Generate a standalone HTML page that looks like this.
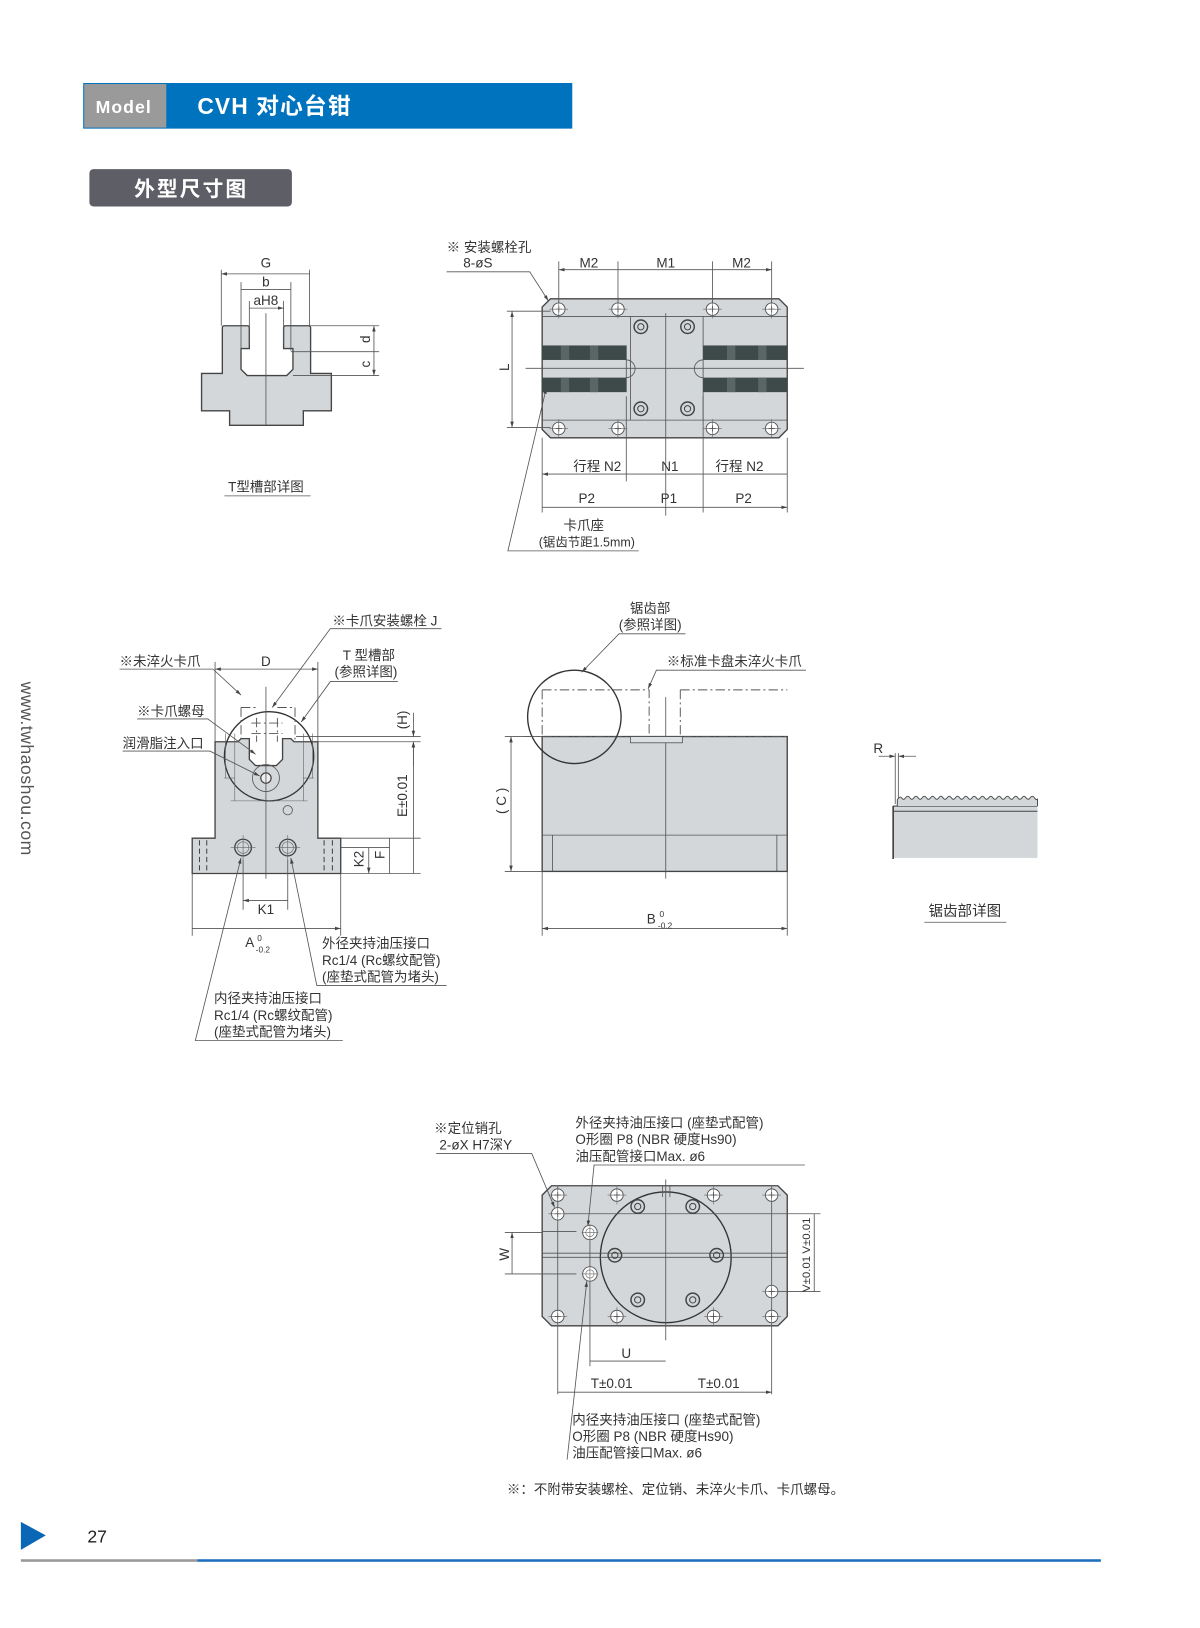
<!DOCTYPE html>
<html><head><meta charset="utf-8">
<style>
html,body{margin:0;padding:0;background:#fff;}
svg{display:block;}
text{font-family:"Liberation Sans","Noto Sans CJK SC",sans-serif;fill:#333;font-size:13px;}
.f{fill:#d3d7da;stroke:#444;stroke-width:1.3;}
.l{stroke:#555;stroke-width:0.8;fill:none;}
.t{stroke:#666;stroke-width:0.6;fill:none;}
.d{stroke:#555;stroke-width:0.9;fill:none;stroke-dasharray:9 3 2 3;}
.h{fill:#fff;stroke:#555;stroke-width:0.9;}
.c{text-anchor:middle;}
</style></head><body>
<svg width="1200" height="1628" viewBox="0 0 1160 1574" xmlns="http://www.w3.org/2000/svg">
<defs>
<marker id="a" viewBox="0 0 10 10" refX="10" refY="5" markerWidth="7" markerHeight="7" orient="auto-start-reverse"><path d="M0,2 L10,5 L0,8z" fill="#444"/></marker>
<g id="bh"><circle r="6" class="h"/><path d="M-9,0H9M0,-9V9" class="t"/><path d="M-3,0H3M0,-3V3" stroke="#555" stroke-width="0.8"/></g>
<g id="rh"><circle r="6.5" fill="none" stroke="#444" stroke-width="1.4"/><circle r="3" fill="none" stroke="#444" stroke-width="1"/></g>
</defs>
<g transform="matrix(1.004,0,0,1.003,0,2)">
<!-- header -->
<rect x="80" y="78" width="471" height="44" fill="#0073be"/>
<rect x="81" y="79" width="79" height="42" fill="#9a9a9a"/>
<text x="92" y="107" style="fill:#fff;font-weight:bold;font-size:17px;letter-spacing:1px">Model</text>
<text x="190" y="108" style="fill:#fff;font-weight:bold;font-size:22px;letter-spacing:1px">CVH 对心台钳</text>
<rect x="86" y="161" width="195" height="36" rx="4" fill="#5d5e66"/>
<text x="184" y="187" class="c" style="fill:#fff;font-weight:bold;font-size:20px;letter-spacing:2px">外型尺寸图</text>

<text transform="translate(20,655) rotate(90)" style="font-size:17px;fill:#555;letter-spacing:0.5px">www.twhaoshou.com</text>

<!-- T slot detail -->
<path class="f" d="M214,314 q0,-2 2,-2 h22 q2,0 2,2 V334 H232 V354 l6,6 H276 l6,-6 V334 H273 V314 q0,-2 2,-2 h22 q2,0 2,2 V358 H319 V394 H292 V408 H221 V394 H194 V358 H214 Z"/>
<path class="l" d="M256,300 V408"/>
<path class="l" d="M213,312 V258 M298,312 V258 M232,336 V270 M280,336 V270 M240,330 V288 M273,330 V288"/>
<path class="l" marker-start="url(#a)" marker-end="url(#a)" d="M213,262 H298 M232,277 H280 M240,295 H273"/>
<text x="256" y="256" class="c">G</text><text x="256" y="274" class="c">b</text><text x="256" y="292" class="c">aH8</text>
<path class="l" d="M298,312 H365 M280,337 H365 M282,360 H365"/>
<path class="l" marker-start="url(#a)" marker-end="url(#a)" d="M360,312 V337 M360,337 V360"/>
<text transform="translate(356,325) rotate(-90)" class="c">d</text>
<text transform="translate(356,349) rotate(-90)" class="c">c</text>
<text x="256" y="472" class="c">T型槽部详图</text>
<path class="l" d="M216,476 H299"/>

<!-- top view -->
<path class="f" d="M530,286 H750 L758,294 V412 L750,420 H530 L522,412 V294 Z"/>
<path class="l" d="M522,303 H758 M522,403 H758 M607,303 V403 M677,303 V403 M603,331 V376 M677,331 V376"/>
<rect x="522" y="331" width="81" height="14" fill="#3e4a4a"/><rect x="522" y="362" width="81" height="14" fill="#3e4a4a"/>
<rect x="677" y="331" width="81" height="14" fill="#3e4a4a"/><rect x="677" y="362" width="81" height="14" fill="#3e4a4a"/>
<g fill="#5a6666"><rect x="540" y="331" width="8" height="14"/><rect x="568" y="331" width="8" height="14"/><rect x="540" y="362" width="8" height="14"/><rect x="568" y="362" width="8" height="14"/><rect x="700" y="331" width="8" height="14"/><rect x="730" y="331" width="8" height="14"/><rect x="700" y="362" width="8" height="14"/><rect x="730" y="362" width="8" height="14"/></g>
<path d="M603,345 a8,8 0 0 1 0,17 M677,345 a8,8 0 0 0 0,17" class="l"/>
<path class="l" d="M641,300 V495 M506,353 H774"/>
<use href="#bh" x="538" y="296"/><use href="#bh" x="595" y="296"/><use href="#bh" x="686" y="296"/><use href="#bh" x="743" y="296"/>
<use href="#bh" x="538" y="411"/><use href="#bh" x="595" y="411"/><use href="#bh" x="686" y="411"/><use href="#bh" x="743" y="411"/>
<use href="#rh" x="617" y="313"/><use href="#rh" x="662" y="313"/><use href="#rh" x="617" y="392"/><use href="#rh" x="662" y="392"/>
<path class="l" d="M538,290 V250 M595,290 V250 M686,290 V250 M743,290 V250"/>
<path class="l" marker-start="url(#a)" marker-end="url(#a)" d="M538,258 H595 M595,258 H686 M686,258 H743"/>
<text x="567" y="256" class="c">M2</text><text x="641" y="256" class="c">M1</text><text x="714" y="256" class="c">M2</text>
<path class="l" d="M488,298 H530 M488,410 H530"/>
<path class="l" marker-start="url(#a)" marker-end="url(#a)" d="M493,298 V410"/>
<text transform="translate(490,352) rotate(-90)" class="c">L</text>
<path class="l" d="M522,420 V492 M758,420 V492 M603,380 V462 M677,380 V492"/>
<path class="l" marker-start="url(#a)" marker-end="url(#a)" d="M522,455 H603 M603,455 H677 M677,455 H758 M522,487 H641 M641,487 H758"/>
<text x="575" y="452" class="c">行程  N2</text><text x="645" y="452" class="c">N1</text><text x="712" y="452" class="c">行程 N2</text>
<text x="565" y="483" class="c">P2</text><text x="644" y="483" class="c">P1</text><text x="716" y="483" class="c">P2</text>
<text x="430" y="241">※ 安装螺栓孔</text><text x="446" y="256">8-øS</text>
<path class="l" d="M430,260 H510 L528,288" marker-end="url(#a)"/>
<text x="562" y="509" class="c">卡爪座</text><text x="565" y="525" class="c" style="font-size:12px">(锯齿节距1.5mm)</text>
<path class="l" d="M615,529 H498 L489,529 L526,372" marker-end="url(#a)"/>

<!-- front view -->
<path class="f" d="M207,713 H229 l3,-3 h8 V730 l6,6 h20 l6,-6 V710 h8 l3,3 H306 V806 H328 V840 H185 V806 H207 Z"/>
<circle cx="259" cy="727" r="43" fill="none" stroke="#333" stroke-width="1.3"/>
<path class="t" d="M222,770 H296 M226,705 V770 M292,705 V770 M216,748 H226 M292,748 H302 M217,705 V748 M301,705 V748"/>
<circle cx="256" cy="748" r="13" fill="none" stroke="#555" stroke-width="0.8"/>
<circle cx="256" cy="748" r="5" fill="#eee" stroke="#444" stroke-width="1.2"/>
<circle cx="277" cy="779" r="4.5" fill="none" stroke="#555" stroke-width="0.8"/>
<path class="d" d="M232,680 V713 M247,690 V713 M267,690 V713 M284,680 V713 M232,680 H247 M267,680 H284 M242,695 H272 M242,705 H272"/>
<path class="l" d="M256,660 V845"/>
<path class="l" d="M207,713 V636 M306,713 V636"/>
<path class="l" marker-start="url(#a)" marker-end="url(#a)" d="M207,643 H306"/>
<text x="256" y="640" class="c">D</text>
<circle cx="234" cy="815" r="8" fill="none" stroke="#444" stroke-width="1.3"/><circle cx="234" cy="815" r="5.5" fill="#eee" class="t"/>
<circle cx="277" cy="815" r="8" fill="none" stroke="#444" stroke-width="1.3"/><circle cx="277" cy="815" r="5.5" fill="#eee" class="t"/>
<path class="t" d="M222,815 H246 M234,803 V827 M265,815 H289 M277,803 V827"/>
<path d="M192,808 V838 M199,808 V838 M312,808 V838 M320,808 V838" stroke="#444" stroke-width="1" stroke-dasharray="5 3" fill="none"/>
<path class="l" d="M234,827 V875 M277,827 V875 M185,840 V900 M328,840 V900"/>
<path class="l" marker-start="url(#a)" marker-end="url(#a)" d="M234,866 H277 M185,893 H328"/>
<text x="256" y="879" class="c">K1</text>
<text x="248" y="911" class="c">A <tspan dy="-6" style="font-size:8px">0</tspan><tspan dx="-6" dy="11" style="font-size:8px">-0.2</tspan></text>
<path class="l" d="M285,708 H405 M306,713 H405 M328,806 H405 M328,815 H375 M328,840 H405"/>
<path class="l" marker-end="url(#a)" d="M398,685 V708"/><path class="l" marker-end="url(#a)" d="M398,736 V713"/>
<path class="l" marker-start="url(#a)" marker-end="url(#a)" d="M398,713 V840 M375,806 V840 M355,815 V840"/>
<text transform="translate(392,692) rotate(-90)" class="c">(H)</text>
<text transform="translate(392,765) rotate(-90)" class="c">E±0.01</text>
<text transform="translate(370,822) rotate(-90)" class="c">F</text>
<text transform="translate(350,826) rotate(-90)" class="c">K2</text>
<text x="115" y="640">※未淬火卡爪</text><path class="l" d="M115,643 H205 L232,668" marker-end="url(#a)"/>
<text x="320" y="601">※卡爪安装螺栓 J</text><path class="l" d="M425,604 H318 L262,680" marker-end="url(#a)"/>
<text x="330" y="634">T 型槽部</text><text x="322" y="650">(参照详图)</text><path class="l" d="M383,655 H318 L290,694" marker-end="url(#a)"/>
<text x="132" y="688">※卡爪螺母</text><path class="l" d="M132,691 H200 L246,725" marker-end="url(#a)"/>
<text x="118" y="719">润滑脂注入口</text><path class="l" d="M118,722 H202 L250,746" marker-end="url(#a)"/>
<text x="310" y="912">外径夹持油压接口</text><text x="310" y="928">Rc1/4 (Rc螺纹配管)</text><text x="310" y="944">(座垫式配管为堵头)</text>
<path class="l" d="M430,948 H305 L280,825" marker-end="url(#a)"/>
<text x="206" y="965">内径夹持油压接口</text><text x="206" y="981">Rc1/4 (Rc螺纹配管)</text><text x="206" y="997">(座垫式配管为堵头)</text>
<path class="l" d="M330,1001 H188 L188,1001 L232,825" marker-end="url(#a)"/>

<!-- side view -->
<rect x="522" y="708" width="236" height="130" class="f"/>
<path class="l" d="M522,803 H758 M532,803 V838 M748,803 V838 M641,670 V845"/>
<rect x="607" y="708" width="50" height="6" fill="#dde0e2" stroke="#555" stroke-width="0.8"/>
<path class="d" d="M522,663 H625 V708 M522,663 V708 M655,663 H758 M655,663 V708 M505,708 H758"/>
<circle cx="553" cy="689" r="45" fill="none" stroke="#333" stroke-width="1.3"/>
<path class="l" d="M486,708 H522 M486,838 H522"/>
<path class="l" marker-start="url(#a)" marker-end="url(#a)" d="M492,708 V838"/>
<text transform="translate(487,770) rotate(-90)" class="c">( C )</text>
<path class="l" d="M522,838 V900 M758,838 V900"/>
<path class="l" marker-start="url(#a)" marker-end="url(#a)" d="M522,893 H758"/>
<text x="635" y="888" class="c">B <tspan dy="-6" style="font-size:8px">0</tspan><tspan dx="-6" dy="11" style="font-size:8px">-0.2</tspan></text>
<text x="626" y="589" class="c">锯齿部</text><text x="626" y="605" class="c">(参照详图)</text>
<path class="l" d="M660,609 H596 L560,646" marker-end="url(#a)"/>
<text x="642" y="640">※标准卡盘未淬火卡爪</text>
<path class="l" d="M776,644 H632 L624,662" marker-end="url(#a)"/>

<!-- serration detail -->
<rect x="860" y="775" width="139" height="50" fill="#d3d7da"/>
<path d="M860,775 V826" stroke="#444" stroke-width="1.6"/>
<path d="M860,775 H999 M860,780 H999" stroke="#444" stroke-width="1"/>
<path fill="#d3d7da" stroke="#444" stroke-width="0.9" d="M864,775 V769 q2,-4 4,-2 q2,3 4,0 q2,-3 4,0 q2,3 4,0 q2,-3 4,0 q2,3 4,0 q2,-3 4,0 q2,3 4,0 q2,-3 4,0 q2,3 4,0 q2,-3 4,0 q2,3 4,0 q2,-3 4,0 q2,3 4,0 q2,-3 4,0 q2,3 4,0 q2,-3 4,0 q2,3 4,0 q2,-3 4,0 q2,3 4,0 q2,-3 4,0 q2,3 4,0 q2,-3 4,0 q2,3 4,0 q2,-3 4,0 q2,3 4,0 q2,-3 4,0 q2,3 4,0 q2,-3 4,0 q2,3 4,0 q2,-3 4,0 q2,3 4,0 q2,-3 4,0 q2,3 3,1 V775"/>
<path class="l" d="M862,724 V773 M865,724 V768"/>
<path class="l" d="M846,727 H862" marker-end="url(#a)"/><path class="l" d="M882,727 H865" marker-end="url(#a)"/>
<text x="841" y="724">R</text>
<text x="929" y="881" class="c" style="font-size:14px">锯齿部详图</text><path class="l" d="M890,887 H969"/>

<!-- bottom view -->
<path class="f" d="M531,1141 H749 L758,1150 V1267 L749,1276 H531 L522,1267 V1150 Z"/>
<circle cx="641" cy="1210" r="63" fill="none" stroke="#333" stroke-width="1.3"/>
<path class="l" d="M522,1206 H758 M522,1210 H758 M641,1135 V1290 M638,1141 V1152 M645,1141 V1152"/>
<path class="l" d="M537,1141 V1342 M743,1141 V1342 M568,1185 V1315 M530,1168 H790 M770,1168 H790 M743,1243 H790 M555,1185 H522 M555,1226 H522"/>
<use href="#bh" x="537" y="1150"/><use href="#bh" x="594" y="1150"/><use href="#bh" x="687" y="1150"/><use href="#bh" x="743" y="1150"/>
<use href="#bh" x="537" y="1267"/><use href="#bh" x="594" y="1267"/><use href="#bh" x="687" y="1267"/><use href="#bh" x="743" y="1267"/>
<use href="#bh" x="537" y="1168"/><use href="#bh" x="743" y="1243"/>
<g><circle cx="568" cy="1186" r="7" class="h"/><circle cx="568" cy="1186" r="4" class="t"/><path class="t" d="M560,1186H576M568,1178V1194"/></g>
<g><circle cx="568" cy="1226" r="7" class="h"/><circle cx="568" cy="1226" r="4" class="t"/><path class="t" d="M560,1226H576M568,1218V1234"/></g>
<use href="#rh" x="614" y="1161"/><use href="#rh" x="667" y="1161"/><use href="#rh" x="592" y="1208"/><use href="#rh" x="690" y="1208"/><use href="#rh" x="614" y="1251"/><use href="#rh" x="667" y="1251"/>
<path class="l" marker-start="url(#a)" marker-end="url(#a)" d="M493,1186 V1226 M784,1168 V1208 M784,1208 V1243 M568,1310 H641 M537,1340 H641 M641,1340 H743"/>
<path class="l" d="M486,1186 H522 M486,1226 H522"/>
<text transform="translate(490,1207) rotate(-90)" class="c">W</text>
<text transform="translate(780,1189) rotate(-90)" class="c" style="font-size:11px">V±0.01</text>
<text transform="translate(780,1226) rotate(-90)" class="c" style="font-size:11px">V±0.01</text>
<text x="603" y="1307" class="c">U</text>
<text x="589" y="1336" class="c">T±0.01</text><text x="692" y="1336" class="c">T±0.01</text>
<text x="418" y="1090">※定位销孔</text><text x="423" y="1106">2-øX H7深Y</text>
<path class="l" d="M420,1110 H512 L534,1162" marker-end="url(#a)"/>
<text x="554" y="1085">外径夹持油压接口 (座垫式配管)</text><text x="554" y="1101">O形圈 P8 (NBR 硬度Hs90)</text><text x="554" y="1117">油压配管接口Max. ø6</text>
<path class="l" d="M775,1121 H572 L566,1180" marker-end="url(#a)"/>
<text x="551" y="1371">内径夹持油压接口 (座垫式配管)</text><text x="551" y="1387">O形圈 P8 (NBR 硬度Hs90)</text><text x="551" y="1403">油压配管接口Max. ø6</text>
<path class="l" d="M565,1233 L546,1405" marker-start="url(#a)"/>
<text x="488" y="1438">※：不附带安装螺栓、定位销、未淬火卡爪、卡爪螺母。</text>

<!-- footer -->
<path d="M20,1465 L44,1478 L20,1492 Z" fill="#0a67b5"/>
<text x="84" y="1485" style="font-size:17px;fill:#222">27</text>
<rect x="20" y="1501" width="170" height="2.5" fill="#999"/>
<rect x="190" y="1501" width="870" height="2.5" fill="#1f6fbf"/>
</g>
</svg>
</body></html>
